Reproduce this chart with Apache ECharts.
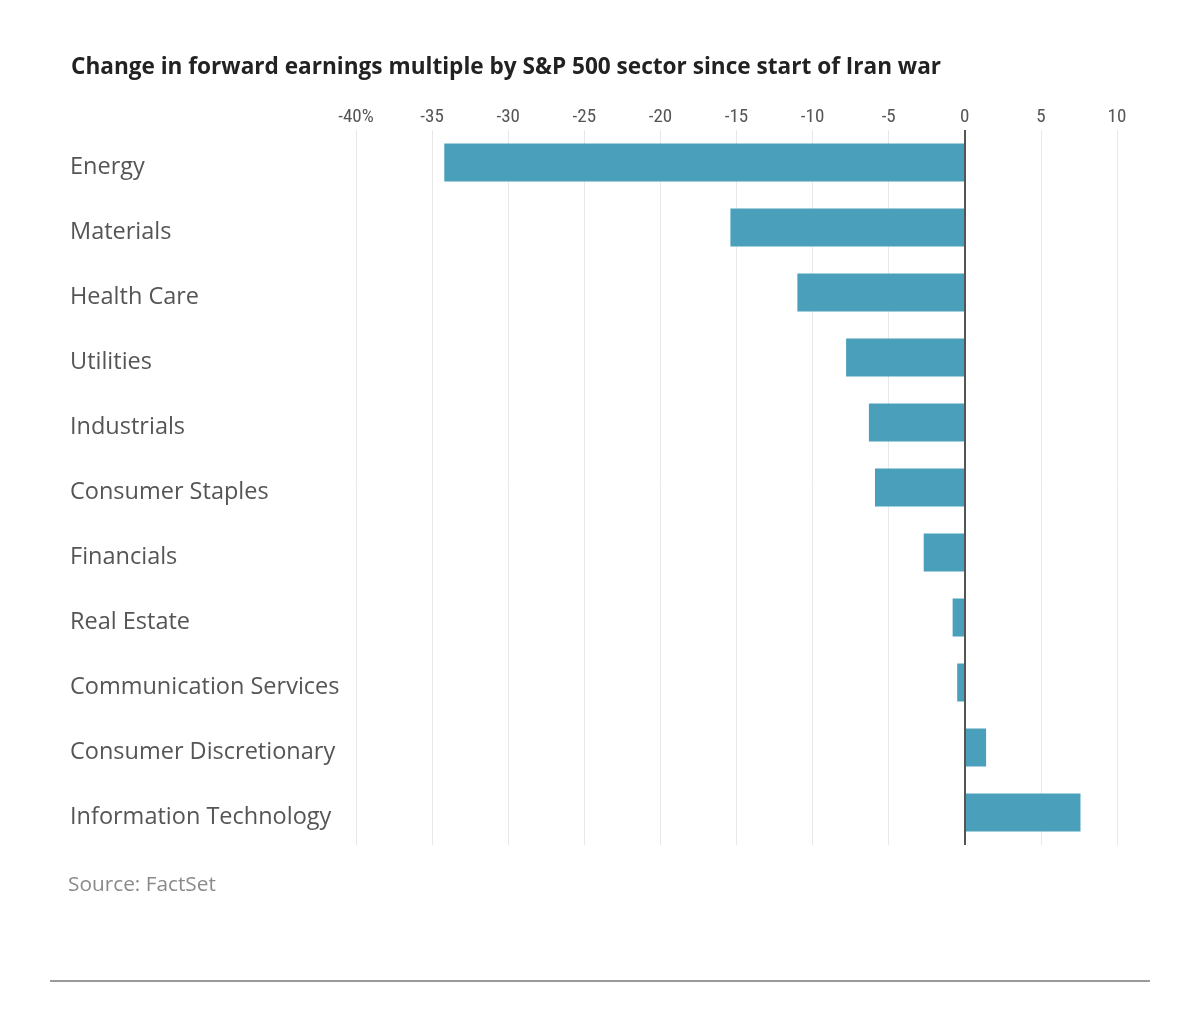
<!DOCTYPE html>
<html>
<head>
<meta charset="utf-8">
<script src="https://cdn.jsdelivr.net/npm/echarts@6/dist/echarts.min.js"></script>
<style>
html,body{margin:0;padding:0;background:#fff;}
#chart{width:1200px;height:1021px;}
</style>
</head>
<body>
<div id="chart"></div>
<script>
const categories = ["Energy","Materials","Health Care","Utilities","Industrials","Consumer Staples","Financials","Real Estate","Communication Services","Consumer Discretionary","Information Technology"];
const values = [-34.2, -15.4, -11.0, -7.8, -6.3, -5.9, -2.7, -0.8, -0.5, 1.4, 7.6];
const tickValues = [-40,-35,-30,-25,-20,-15,-10,-5,0,5,10];

const chart = echarts.init(document.getElementById('chart'));
const font = "'Open Sans', 'Noto Sans', sans-serif";
chart.setOption({
  animation: false,
  backgroundColor: '#fff',
  title: {
    text: 'Change in forward earnings multiple by S&P 500 sector since start of Iran war',
    left: 66, top: 51,
    textStyle: {fontFamily: font, fontSize: 22.6, fontWeight: 'bold', color: '#222'}
  },
  graphic: [
    {type:'text', left: 68, top: 875, style:{text:'Source: FactSet', fontFamily: font, fontSize: 20.8, fill:'#8a8a8a'}},
    {type:'rect', shape:{x:50, y:980, width:1100, height:2}, style:{fill:'#9a9a9a'}}
  ],
  grid: {left: 356, right: 83, top: 130, bottom: 176, containLabel: false},
  xAxis: {
    type: 'value', position: 'top', min: -40, max: 10, interval: 5,
    axisLine: {show: false}, axisTick: {show: false},
    splitLine: {show: true, lineStyle: {color: '#e8e8e8', width: 1}},
    axisLabel: {
      margin: 3, color: '#555', fontSize: 19, fontFamily: "'Liberation Sans Narrow', 'Roboto Condensed', 'Open Sans', sans-serif",
      formatter: v => tickValues.includes(v) ? (v === -40 ? '-40%' : String(v)) : ''
    }
  },
  yAxis: {
    type: 'category', data: categories, inverse: true,
    axisLine: {show: false}, axisTick: {show: false},
    axisLabel: {align: 'left', verticalAlign: 'top', lineHeight: 10, margin: 286, color: '#555', fontSize: 23.5, fontFamily: font}
  },
  series: [{
    type: 'bar', data: values, barWidth: 38,
    itemStyle: {color: '#4a9fbb'},
    markLine: {
      silent: true, symbol: 'none', label: {show: false},
      lineStyle: {color: '#555', width: 2, type: 'solid'},
      data: [{xAxis: 0}]
    }
  }]
});
</script>
</body>
</html>
